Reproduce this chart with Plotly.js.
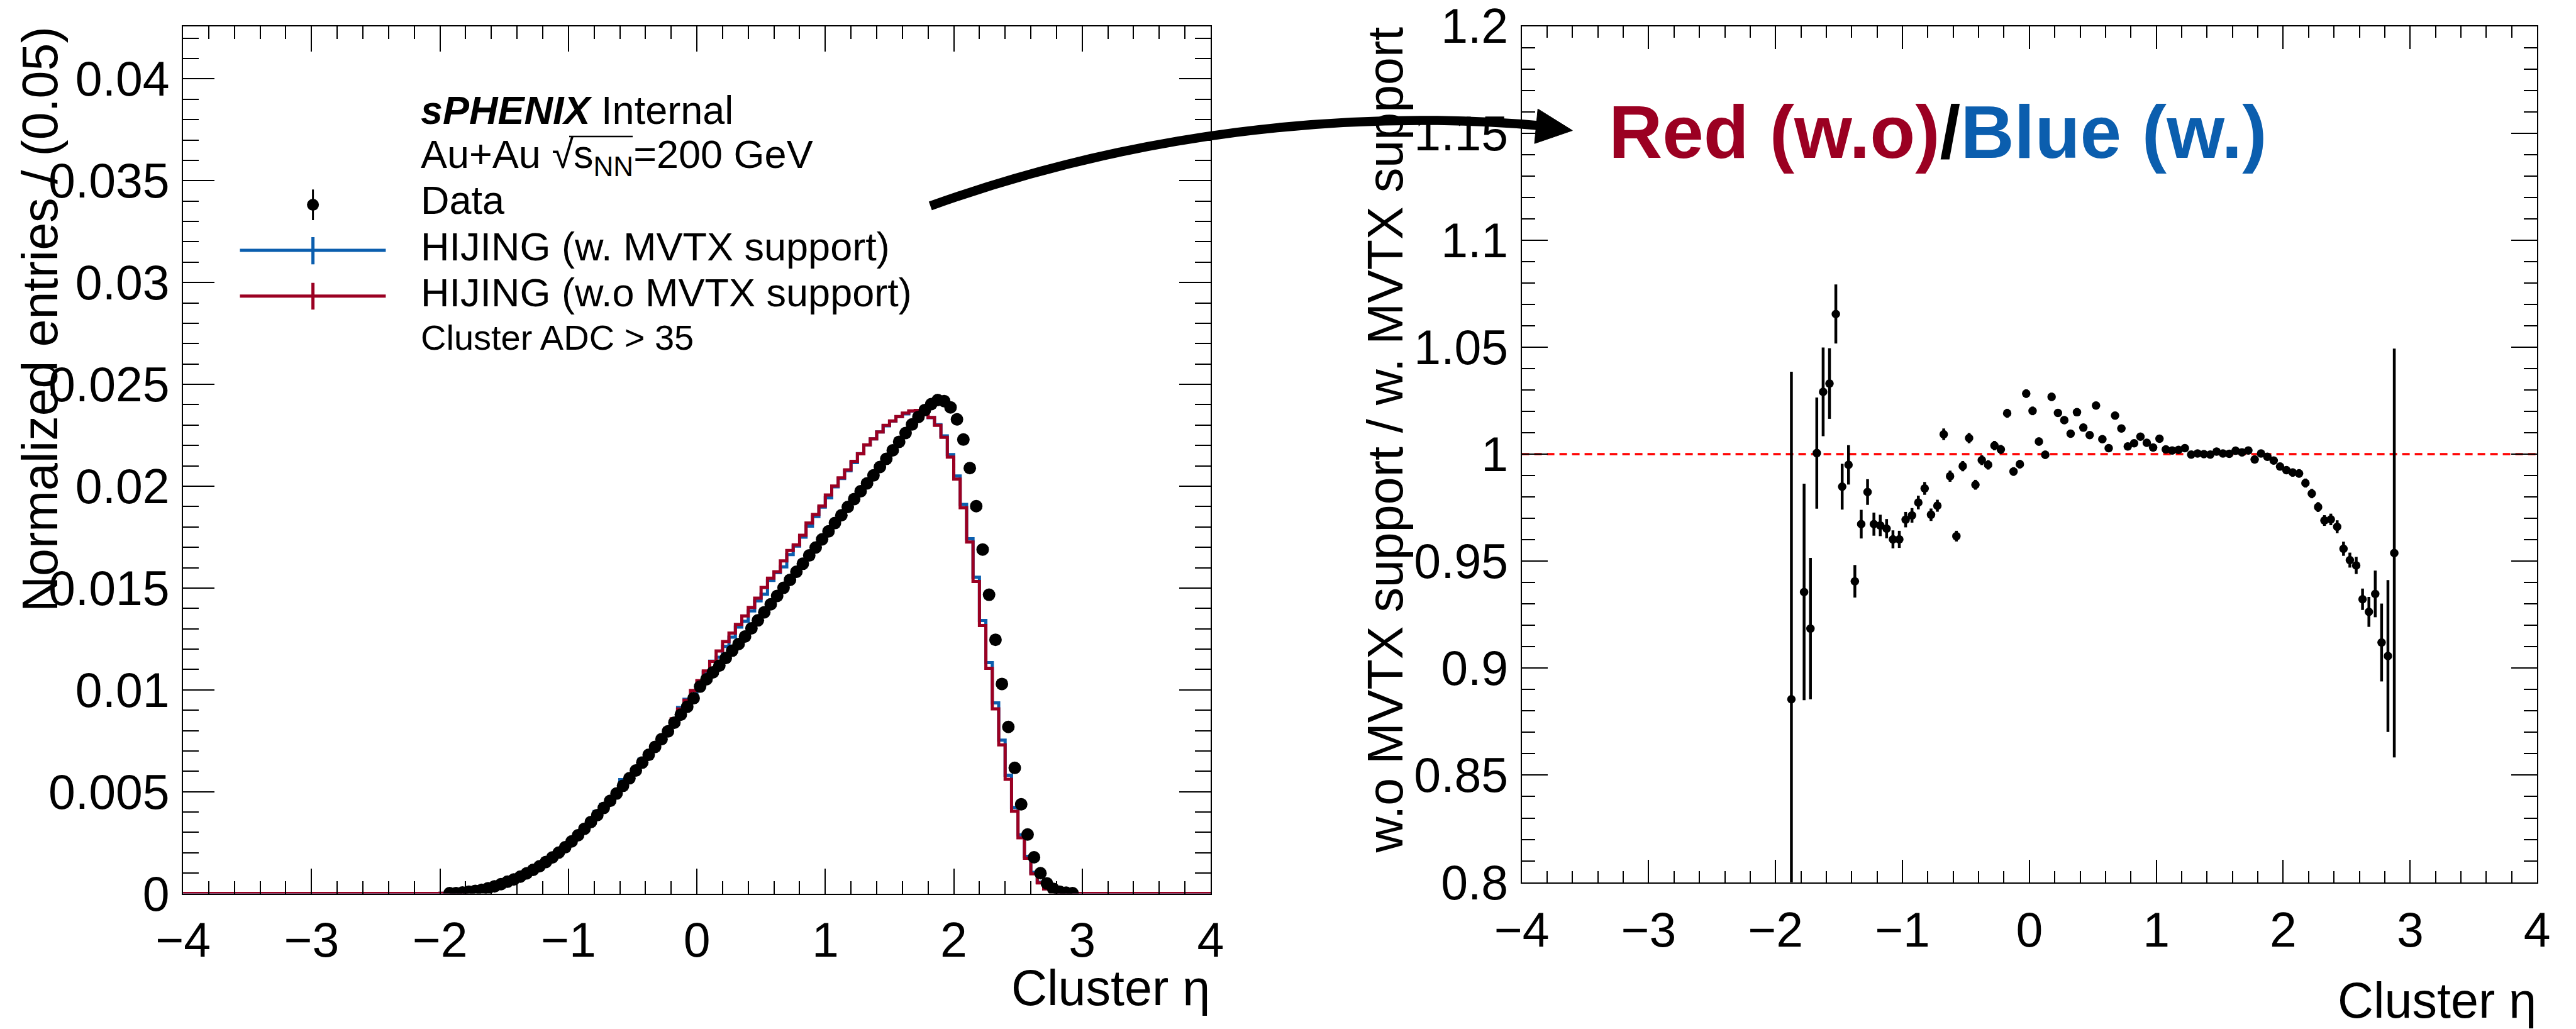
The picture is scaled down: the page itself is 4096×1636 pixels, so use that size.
<!DOCTYPE html>
<html><head><meta charset="utf-8">
<script src="https://cdn.plot.ly/plotly-3.0.1.min.js"></script>
<style>html,body{margin:0;padding:0;background:#fff;}#chart{width:4096px;height:1636px;}</style>
</head><body><div id="chart"></div>
<script>
// ---------- data ----------
const etaBins = [
 -1.975,-1.925,-1.875,-1.825,-1.775,-1.725,-1.675,-1.625,-1.575,-1.525,
 -1.475,-1.425,-1.375,-1.325,-1.275,-1.225,-1.175,-1.125,-1.075,-1.025,
 -0.975,-0.925,-0.875,-0.825,-0.775,-0.725,-0.675,-0.625,-0.575,-0.525,
 -0.475,-0.425,-0.375,-0.325,-0.275,-0.225,-0.175,-0.125,-0.075,-0.025,
 0.025,0.075,0.125,0.175,0.225,0.275,0.325,0.375,0.425,0.475,
 0.525,0.575,0.625,0.675,0.725,0.775,0.825,0.875,0.925,0.975,
 1.025,1.075,1.125,1.175,1.225,1.275,1.325,1.375,1.425,1.475,
 1.525,1.575,1.625,1.675,1.725,1.775,1.825,1.875,1.925,1.975,
 2.025,2.075,2.125,2.175,2.225,2.275,2.325,2.375,2.425,2.475,
 2.525,2.575,2.625,2.675,2.725,2.775,2.825,2.875,2.925];

// HIJING (w.o MVTX support) - red
const hijingWithout = [
 0.00001,0.00002,0.00003,0.00005,0.00008,0.00012,0.00017,0.00024,0.00033,0.00044,
 0.00056,0.00068,0.00082,0.00098,0.00116,0.00135,0.00156,0.00178,0.00203,0.00229,
 0.00258,0.00289,0.00322,0.00356,0.00391,0.00427,0.00463,0.00500,0.00538,0.00575,
 0.00612,0.00650,0.00688,0.00727,0.00767,0.00810,0.00858,0.00906,0.00949,0.00997,
 0.01045,0.01093,0.01140,0.01191,0.01237,0.01279,0.01321,0.01363,0.01405,0.01450,
 0.01503,0.01548,0.01580,0.01633,0.01684,0.01712,0.01759,0.01819,0.01861,0.01903,
 0.01957,0.02001,0.02041,0.02080,0.02122,0.02159,0.02203,0.02232,0.02266,0.02299,
 0.02320,0.02342,0.02359,0.02370,0.02372,0.02375,0.02337,0.02299,0.02240,0.02143,
 0.02035,0.01894,0.01726,0.01532,0.01316,0.01106,0.00907,0.00730,0.00561,0.00404,
 0.00274,0.00173,0.00097,0.00052,0.00023,0.00009,0.00003,0.00001,0.000005];

// HIJING (w. MVTX support) - blue
const hijingWith = [
 0.00001,0.00002,0.000034,0.00005,0.000086,0.000131,0.00017,0.000233,0.00032,0.000413,
 0.000569,0.000683,0.000872,0.001013,0.001181,0.001396,0.001614,0.001844,0.002114,0.002385,
 0.002661,0.002975,0.003294,0.003618,0.004024,0.004375,0.004587,0.005052,0.005594,0.005782,
 0.006074,0.006594,0.006899,0.007307,0.007639,0.008082,0.008419,0.009134,0.009535,0.009695,
 0.010243,0.010866,0.011403,0.011599,0.012136,0.01259,0.013084,0.013368,0.013878,0.014372,
 0.014696,0.015373,0.015756,0.016041,0.01664,0.017059,0.0175,0.018041,0.018512,0.018971,
 0.01943,0.019966,0.020375,0.020758,0.021161,0.021594,0.022023,0.02232,0.022664,0.022963,
 0.023193,0.023415,0.023552,0.023681,0.02368,0.02381,0.023363,0.023018,0.022467,0.021555,
 0.020504,0.019104,0.017417,0.01553,0.013407,0.01134,0.00936,0.00753,0.005807,0.004227,
 0.002883,0.001825,0.001041,0.000561,0.000246,0.0000987,0.0000331,0.0000105,0.000005];

// Data (starts at eta = -1.925)
const dataEta = etaBins.slice(1);
const dataValues = [
 0.00002,0.00002,0.00005,0.00009,0.00013,0.00018,0.00026,0.00035,0.00046,0.00058,
 0.00069,0.00083,0.00099,0.00116,0.00134,0.00155,0.00177,0.00201,0.00227,0.00256,
 0.00286,0.00318,0.00351,0.00385,0.00420,0.00455,0.00491,0.00529,0.00566,0.00604,
 0.00643,0.00681,0.00720,0.00758,0.00796,0.00839,0.00878,0.00917,0.00959,0.01016,
 0.01052,0.01086,0.01119,0.01156,0.01192,0.01225,0.01262,0.01302,0.01341,0.01381,
 0.01420,0.01461,0.01501,0.01540,0.01580,0.01619,0.01660,0.01699,0.01739,0.01778,
 0.01819,0.01857,0.01898,0.01937,0.01975,0.02014,0.02053,0.02094,0.02134,0.02176,
 0.02218,0.02261,0.02303,0.02340,0.02374,0.02403,0.02423,0.02418,0.02387,0.02328,
 0.02229,0.02089,0.01902,0.01689,0.01467,0.01246,0.01029,0.00818,0.00617,0.00438,
 0.00290,0.00178,0.00100,0.00050,0.00023,0.00009,0.00004,0.00002];

// Ratio w.o / w. MVTX support
const ratioEta = [
 -1.875,-1.775,-1.725,-1.675,-1.625,-1.575,-1.525,-1.475,-1.425,-1.375,
 -1.325,-1.275,-1.225,-1.175,-1.125,-1.075,-1.025,-0.975,-0.925,-0.875,
 -0.825,-0.775,-0.725,-0.675,-0.625,-0.575,-0.525,-0.475,-0.425,-0.375,
 -0.325,-0.275,-0.225,-0.175,-0.125,-0.075,-0.025,0.025,0.075,0.125,
 0.175,0.225,0.275,0.325,0.375,0.425,0.475,0.525,0.575,0.625,
 0.675,0.725,0.775,0.825,0.875,0.925,0.975,1.025,1.075,1.125,
 1.175,1.225,1.275,1.325,1.375,1.425,1.475,1.525,1.575,1.625,
 1.675,1.725,1.775,1.825,1.875,1.925,1.975,2.025,2.075,2.125,
 2.175,2.225,2.275,2.325,2.375,2.425,2.475,2.525,2.575,2.625,
 2.675,2.725,2.775,2.825,2.875];
const ratioValues = [
 0.8855,0.9356,0.9185,1.0005,1.0291,1.0330,1.0655,0.9848,0.9950,0.9406,
 0.9673,0.9823,0.9673,0.9667,0.9652,0.9602,0.9602,0.9694,0.9714,0.9774,
 0.9840,0.9717,0.9759,1.0093,0.9897,0.9617,0.9944,1.0075,0.9857,0.9972,
 0.9950,1.0040,1.0022,1.0191,0.9919,0.9953,1.0283,1.0202,1.0059,0.9997,
 1.0268,1.0193,1.0159,1.0096,1.0196,1.0124,1.0089,1.0227,1.0070,1.0028,
 1.0180,1.0120,1.0036,1.0051,1.0082,1.0053,1.0031,1.0072,1.0022,1.0017,
 1.0020,1.0028,0.9998,1.0003,1.0000,0.9998,1.0012,1.0003,1.0002,1.0016,
 1.0008,1.0017,0.9975,1.0003,0.9988,0.9970,0.9942,0.9925,0.9914,0.9910,
 0.9865,0.9816,0.9753,0.9690,0.9695,0.9661,0.9558,0.9505,0.9480,0.9322,
 0.9263,0.9347,0.9120,0.9057,0.9538];
const ratioErrors = [
 0.153,0.0506,0.033,0.026,0.0207,0.0165,0.0138,0.0107,0.0092,0.0076,
 0.0067,0.006,0.0054,0.005,0.0045,0.0042,0.004,0.0036,0.0034,0.0032,
 0.003,0.0029,0.0028,0.0027,0.0026,0.0025,0.0024,0.0024,0.0023,0.0023,
 0.0022,0.0022,0.0021,0.0021,0.002,0.002,0.002,0.002,0.0019,0.0019,
 0.0019,0.0018,0.0018,0.0018,0.0018,0.0017,0.0017,0.0017,0.0017,0.0017,
 0.0016,0.0016,0.0016,0.0016,0.0016,0.0016,0.0016,0.0016,0.0016,0.0016,
 0.0016,0.0016,0.0016,0.0016,0.0016,0.0016,0.0016,0.0016,0.0016,0.0016,
 0.0016,0.0016,0.0016,0.0016,0.0017,0.0017,0.0018,0.0018,0.0019,0.002,
 0.0021,0.0022,0.0023,0.0025,0.0027,0.003,0.0033,0.0035,0.004,0.005,
 0.007,0.0109,0.0182,0.0355,0.0955];

const binWidth = 0.05;
const xRange = [-4, 4];
const leftYRange = [0, 0.04259];
const rightYRange = [0.8, 1.20001];
const legendLabels = ['Data', 'HIJING (w. MVTX support)', 'HIJING (w.o MVTX support)'];

// ---------- styling / layout ----------
const W = 4096, H = 1636;
const FONT = 'Liberation Sans, Arial, Helvetica, sans-serif';
const RED = '#9b0022', BLUE = '#0b5eae';
const px = v => v / W;
const py = v => 1 - v / H;

function stepLine(centers, vals) {
  const xs = [xRange[0]], ys = [0];
  for (let i = 0; i < centers.length; i++) { xs.push(centers[i] - binWidth / 2); ys.push(vals[i]); }
  xs.push(centers[centers.length - 1] + binWidth / 2); ys.push(0);
  xs.push(xRange[1]); ys.push(0);
  return {xs, ys};
}
const blueStep = stepLine(etaBins, hijingWith);
const redStep = stepLine(etaBins, hijingWithout);

const traces = [
  {x: blueStep.xs, y: blueStep.ys, type: 'scatter', mode: 'lines', line: {shape: 'hv', color: BLUE, width: 5}, xaxis: 'x', yaxis: 'y', name: legendLabels[1]},
  {x: redStep.xs, y: redStep.ys, type: 'scatter', mode: 'lines', line: {shape: 'hv', color: RED, width: 5}, xaxis: 'x', yaxis: 'y', name: legendLabels[2]},
  {x: dataEta, y: dataValues, type: 'scatter', mode: 'markers', marker: {color: 'black', size: 20, line: {width: 0}}, xaxis: 'x', yaxis: 'y', name: legendLabels[0]},
  {x: ratioEta, y: ratioValues, type: 'scatter', mode: 'markers', marker: {color: 'black', size: 13.5, line: {width: 0}},
   error_y: {type: 'data', array: ratioErrors, visible: true, color: 'black', thickness: 4.5, width: 0}, xaxis: 'x2', yaxis: 'y2', name: 'ratio'}
];

function axisX(domain, anchor, tl, mtl, standoff) {
  return {domain, anchor, range: xRange, tickmode: 'linear', tick0: 0, dtick: 1,
    ticks: 'inside', ticklen: tl, tickwidth: 2, tickcolor: 'black',
    showline: true, linewidth: 2, linecolor: 'black', mirror: 'ticks',
    showgrid: false, zeroline: false, automargin: false, ticklabeloverflow: 'allow',
    tickfont: {family: FONT, size: 77, color: 'black'}, ticklabelstandoff: standoff,
    minor: {tickmode: 'linear', tick0: 0, dtick: 0.2, ticks: 'inside', ticklen: mtl, tickwidth: 2, tickcolor: 'black', showgrid: false}};
}
function axisY(domain, anchor, range, dtick, mdtick, tl, mtl) {
  return {domain, anchor, range, tickmode: 'linear', tick0: 0, dtick, tickformat: '~g',
    ticks: 'inside', ticklen: tl, tickwidth: 2, tickcolor: 'black',
    showline: true, linewidth: 2, linecolor: 'black', mirror: 'ticks',
    showgrid: false, zeroline: false, automargin: false, ticklabeloverflow: 'allow',
    tickfont: {family: FONT, size: 77, color: 'black'}, ticklabelstandoff: 4,
    minor: {tickmode: 'linear', tick0: 0, dtick: mdtick, ticks: 'inside', ticklen: mtl, tickwidth: 2, tickcolor: 'black', showgrid: false}};
}

const leftPlot = {x0: 291.1, x1: 1925.0, y0: 41.5, y1: 1420.6};
const rightPlot = {x0: 2419.6, x1: 4034.1, y0: 41.5, y1: 1402.6};

const ann = (text, x, y, size, opts) => Object.assign({text, x, y, xref: 'paper', yref: 'paper', showarrow: false,
  font: {family: FONT, size, color: 'black'}, xanchor: 'left', yanchor: 'middle', borderpad: 0}, opts || {});

const legX = px(667.5);
const annotations = [
  ann('Cluster η', px(leftPlot.x1), py(1570), 79, {xanchor: 'right'}),
  ann('Cluster η', px(rightPlot.x1), py(1590), 79, {xanchor: 'right'}),
  ann('Normalized entries / (0.05)', px(63), py(leftPlot.y0), 79, {textangle: -90, xanchor: 'center', yanchor: 'top'}),
  ann('w.o MVTX support / w. MVTX support', px(2202), py(rightPlot.y0), 79, {textangle: -90, xanchor: 'center', yanchor: 'top'}),
  ann('<b><i>sPHENIX</i></b> Internal', legX, py(174.8), 63),
  ann('Au+Au √s<sub>NN</sub>=200 GeV', legX, py(249), 63),
  ann(legendLabels[0], legX, py(318.3), 63),
  ann(legendLabels[1], legX, py(392.2), 63),
  ann(legendLabels[2], legX, py(465.3), 63),
  ann('Cluster ADC > 35', legX, py(536.2), 56),
  ann('<span style="color:' + RED + '">Red (w.o)</span>/<span style="color:' + BLUE + '">Blue (w.)</span>', px(2557), py(210), 118,
      {font: {family: FONT, size: 118, color: 'black', weight: 'bold'}})
];

const shapes = [
  // reference line at ratio = 1
  {type: 'line', xref: 'x2', yref: 'y2', x0: xRange[0], x1: xRange[1], y0: 1, y1: 1, layer: 'below', line: {color: '#ff0000', width: 3.5, dash: '12px,8px'}},
  // overline of the square root
  {type: 'line', xref: 'paper', yref: 'paper', x0: px(905), x1: px(1006), y0: py(217), y1: py(217), line: {color: 'black', width: 2.5}},
  // legend symbols
  {type: 'line', xref: 'paper', yref: 'paper', x0: px(381.5), x1: px(613.4), y0: py(398.1), y1: py(398.1), line: {color: BLUE, width: 5}},
  {type: 'line', xref: 'paper', yref: 'paper', x0: px(497.6), x1: px(497.6), y0: py(377), y1: py(420.3), line: {color: BLUE, width: 5}},
  {type: 'line', xref: 'paper', yref: 'paper', x0: px(381.5), x1: px(613.4), y0: py(470.7), y1: py(470.7), line: {color: RED, width: 5}},
  {type: 'line', xref: 'paper', yref: 'paper', x0: px(497.6), x1: px(497.6), y0: py(449.7), y1: py(492.2), line: {color: RED, width: 5}},
  {type: 'line', xref: 'paper', yref: 'paper', x0: px(497.6), x1: px(497.6), y0: py(301.3), y1: py(350), line: {color: 'black', width: 3}},
  {type: 'circle', xref: 'paper', yref: 'paper', x0: px(488.1), x1: px(507.1), y0: py(335.1), y1: py(316.1), fillcolor: 'black', line: {width: 0}},
  // curved arrow
  {type: 'path', xref: 'paper', yref: 'paper', layer: 'above',
   path: 'M' + px(1479.3) + ',' + py(327.4) + ' C' + px(1795) + ',' + py(213.8) + ' ' + px(2137.7) + ',' + py(171.4) + ' ' + px(2453.4) + ',' + py(200.2),
   line: {color: 'black', width: 14.5}},
  {type: 'path', xref: 'paper', yref: 'paper', layer: 'above',
   path: 'M' + px(2500.3) + ',' + py(207.5) + ' L' + px(2445.3) + ',' + py(173.2) + ' L' + px(2440) + ',' + py(228.2) + ' Z',
   fillcolor: 'black', line: {color: 'black', width: 1}}
];

const layout = {
  width: W, height: H, margin: {l: 0, r: 0, t: 0, b: 0}, showlegend: false,
  paper_bgcolor: 'white', plot_bgcolor: 'white', font: {family: FONT, color: 'black'},
  xaxis: axisX([px(leftPlot.x0), px(leftPlot.x1)], 'y', 40, 20, 6),
  yaxis: axisY([py(leftPlot.y1), py(leftPlot.y0)], 'x', leftYRange, 0.005, 0.001, 50, 25),
  xaxis2: axisX([px(rightPlot.x0), px(rightPlot.x1)], 'y2', 36, 18, 8),
  yaxis2: axisY([py(rightPlot.y1), py(rightPlot.y0)], 'x2', rightYRange, 0.05, 0.01, 41, 21),
  annotations, shapes, hovermode: false
};

Plotly.newPlot('chart', traces, layout, {staticPlot: true, responsive: false});
</script></body></html>
